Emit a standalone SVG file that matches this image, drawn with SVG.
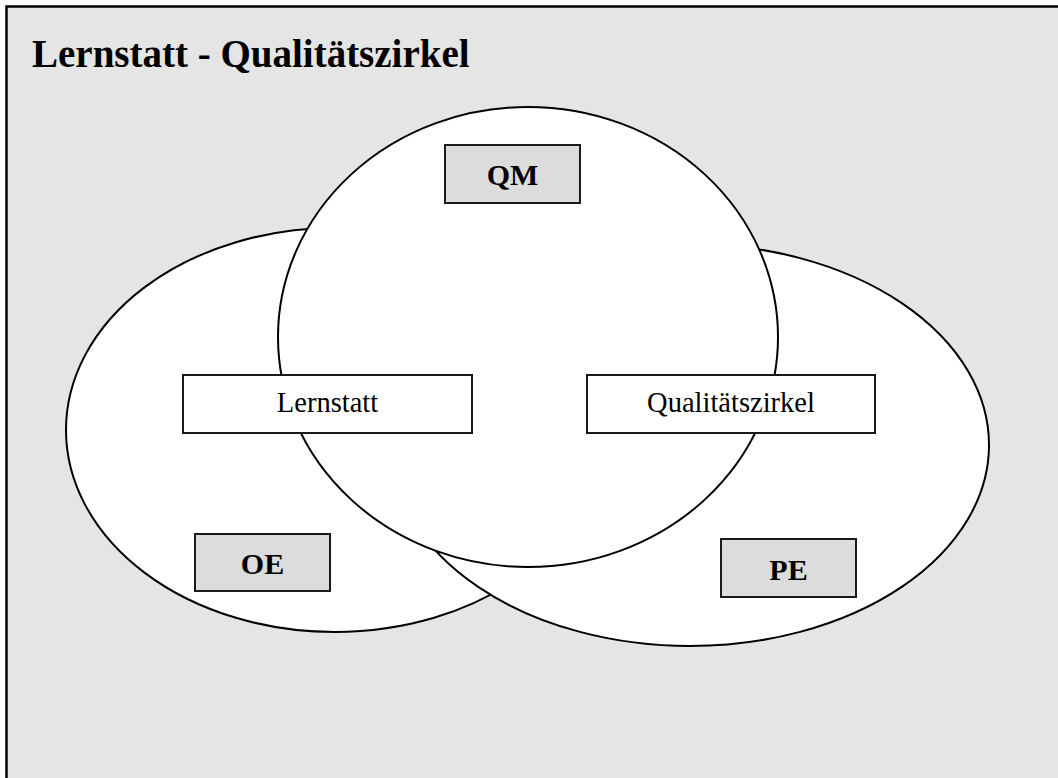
<svg xmlns="http://www.w3.org/2000/svg" width="1058" height="778" viewBox="0 0 1058 778">
  <style>
    .bg { fill: #e5e5e5; stroke: #000; stroke-width: 2.5; }
    .shape { fill: #ffffff; stroke: #000; stroke-width: 2; }
    .lbl { stroke: #1a1a1a; stroke-width: 2; }
    .gray { fill: #dcdcdc; }
    .white { fill: #ffffff; }
    .title { font-family: "Liberation Serif", "Times New Roman", serif; font-weight: bold; font-size: 39px; fill: #000; }
    .bold { font-family: "Liberation Serif", "Times New Roman", serif; font-weight: bold; font-size: 30px; fill: #000; text-anchor: middle; }
    .reg { font-family: "Liberation Serif", "Times New Roman", serif; font-size: 28.5px; fill: #000; text-anchor: middle; }
  </style>
  <rect class="bg" x="6.5" y="6.5" width="1070" height="790"/>
  <text class="title" x="32" y="67">Lernstatt - Qualitätszirkel</text>
  <g id="shapes">
    <ellipse id="ellipse-oe" class="shape" cx="335" cy="430" rx="269" ry="202"/>
    <ellipse id="ellipse-pe" class="shape" cx="690" cy="445" rx="299" ry="201"/>
    <ellipse id="ellipse-qm" class="shape" cx="528" cy="337" rx="250" ry="230"/>
  </g>
  <g id="qm">
    <rect class="lbl gray" x="445" y="145" width="135" height="58"/>
    <text class="bold" x="512.5" y="185">QM</text>
  </g>
  <g id="lernstatt">
    <rect class="lbl white" x="183" y="375" width="289" height="58"/>
    <text class="reg" x="327.5" y="412">Lernstatt</text>
  </g>
  <g id="qualitaetszirkel">
    <rect class="lbl white" x="587" y="375" width="288" height="58"/>
    <text class="reg" x="731" y="412">Qualitätszirkel</text>
  </g>
  <g id="oe">
    <rect class="lbl gray" x="195" y="534" width="135" height="57"/>
    <text class="bold" x="262.5" y="574">OE</text>
  </g>
  <g id="pe">
    <rect class="lbl gray" x="721" y="539" width="135" height="58"/>
    <text class="bold" x="788.5" y="580">PE</text>
  </g>
</svg>
